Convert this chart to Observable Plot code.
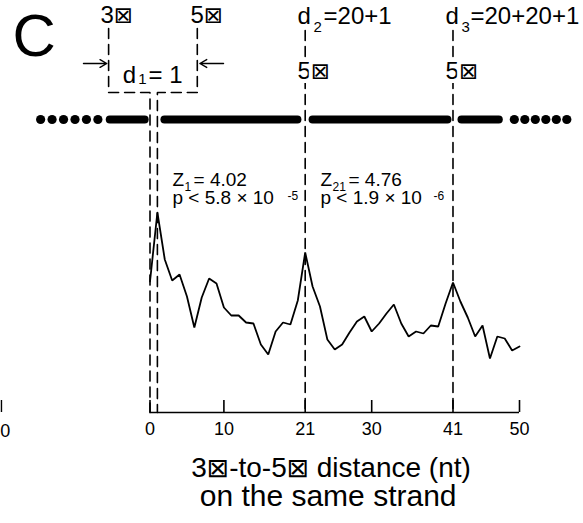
<!DOCTYPE html>
<html><head><meta charset="utf-8">
<script src="https://cdn.jsdelivr.net/npm/d3@7"></script>
<script src="https://cdn.jsdelivr.net/npm/@observablehq/plot@0.6"></script>
<style>body{margin:0;background:#fff} svg{overflow:visible}</style>
</head><body><div id="chart"></div>
<script>
// ---- data ----
const distance = [0,1,2,3,4,5,6,7,8,9,10,11,12,13,14,15,16,17,18,19,20,21,22,23,24,25,26,27,28,29,30,31,32,33,34,35,36,37,38,39,40,41,42,43,44,45,46,47,48,49,50];
const signal = [131,200,153,132,138,116,85,115,134,129,105,97,97,90,89,68,58,81,90,88,112,160,126,106,73,63,68,80,91,96,81,89,99,108,89,76,81,79,87,86,109,130,111,95,76,87,54,76,74,62,66];
const tickValues = [0,10,21,30,41,50];
const titleLines = ["3⊠-to-5⊠ distance (nt)", "on the same strand"];

// strand cartoon (in nt units)
const strandY = 293;
const strandSegments = [{start:-5.45,end:-0.72},{start:1.95,end:19.95},{start:22.0,end:40.25},{start:42.15,end:47.2}];
const strandDots = [-14.8,-13.25,-11.7,-10.15,-8.6,-7.05,49.3,50.72,52.14,53.56,54.98,56.4];

// dashed guides
const guidePaths = [
  {id:"a",x:-5.6,y:384},{id:"a",x:-5.6,y:320},{id:"a",x:0,y:320},{id:"a",x:0,y:0},
  {id:"b",x:6.4,y:384},{id:"b",x:6.4,y:320},{id:"b",x:1,y:320},{id:"b",x:1,y:0},
  {id:"c",x:21,y:382},{id:"c",x:21,y:0},
  {id:"d",x:41,y:382},{id:"d",x:41,y:0}
];
const arrows = [{x1:-9.0,x2:-5.85,y:349},{x1:9.95,x2:6.75,y:349}];

// texts
const bigLabel = [{x:-18.6,y:357,text:"C"}];
const labels24 = [
  {x:-6.7,y:390,text:"3⊠"},{x:5.48,y:390,text:"5⊠"},
  {x:19.96,y:389,text:"d"},{x:23.48,y:389,text:"=20+1"},
  {x:39.99,y:389,text:"d"},{x:43.37,y:389,text:"=20+20+1"},
  {x:-3.7,y:330,text:"d"},{x:-0.2,y:330,text:"= 1"}
];
const haloLabels = [{x:19.96,y:334,text:"5⊠"},{x:39.99,y:334,text:"5⊠"}];
const subs15 = [{x:22.13,y:380.5,text:"2"},{x:42.15,y:380.5,text:"3"},{x:-1.6,y:329,text:"1"}];
const labels19 = [
  {x:3.04,y:227,text:"Z"},{x:5.89,y:227,text:"= 4.02"},{x:3.04,y:209,text:"p < 5.8 × 10"},
  {x:23.07,y:227,text:"Z"},{x:26.86,y:227,text:"= 4.76"},{x:23.07,y:209,text:"p < 1.9 × 10"}
];
const small12 = [{x:4.67,y:222,text:"1"},{x:24.7,y:222,text:"21"},{x:18.6,y:213,text:"-5"},{x:38.36,y:213,text:"-6"}];
const fragment = [{x:-19.6,y:-24,text:"0"}];
const fragmentTick = [-20.1];

const table = distance.map((d,i)=>({distance:d, value:signal[i]}));
const txt = (data, size, extra={}) => Plot.text(data, {x:"x", y:"y", text:"text", fontSize:size, textAnchor:"start", lineAnchor:"bottom", ...extra});

const chart = Plot.plot({
  width: 583, height: 523,
  marginLeft: 149.5, marginRight: 64, marginTop: 212, marginBottom: 111,
  style: {fontFamily: "'Liberation Sans', Arial, sans-serif", background: "white", overflow: "visible", color: "black"},
  x: {domain: [0, 50]},
  y: {domain: [0, 200], axis: null},
  marks: [
    Plot.link(strandSegments, {x1:"start", x2:"end", y1:strandY, y2:strandY, stroke:"black", strokeWidth:8, strokeLinecap:"round"}),
    Plot.dot(strandDots, {x:d=>d, y:strandY, r:4.6, fill:"black"}),
    Plot.line(guidePaths, {x:"x", y:"y", z:"id", stroke:"black", strokeWidth:1.6, strokeDasharray:"10,6", strokeLinejoin:"miter"}),
    Plot.arrow(arrows, {x1:"x1", y1:"y", x2:"x2", y2:"y", stroke:"black", strokeWidth:1.4, headLength:9, headAngle:60}),
    Plot.line(table, {x:"distance", y:"value", stroke:"black", strokeWidth:1.8, strokeLinejoin:"miter"}),
    Plot.ruleY([0], {x1:0, x2:50, stroke:"black", strokeWidth:1.6}),
    Plot.ruleX(tickValues, {y1:0, y2:12, stroke:"black", strokeWidth:1.6}),
    Plot.axisX({ticks: tickValues, tickSize: 0, tickPadding: 10, fontSize: 18, label: null}),
    Plot.ruleX(fragmentTick, {y1:0, y2:12, stroke:"black", strokeWidth:1.4}),
    Plot.text(fragment, {x:"x", y:"y", text:"text", fontSize:18, lineAnchor:"bottom"}),
    txt(bigLabel, 60),
    txt(labels24, 24),
    txt(haloLabels, 24, {stroke:"white", strokeWidth:8, fill:"black"}),
    txt(subs15, 15),
    txt(labels19, 19),
    txt(small12, 12),
    Plot.text(titleLines.slice(0,1), {x:24.5, y:-64, text:d=>d, fontSize:28, textAnchor:"middle", lineAnchor:"bottom"}),
    Plot.text(titleLines.slice(1), {x:24.1, y:-93, text:d=>d, fontSize:30, textAnchor:"middle", lineAnchor:"bottom"})
  ]
});

// render the unavailable-glyph marks at a compact size
d3.select(chart).selectAll("text").each(function(){
  if (this.childElementCount === 0 && this.textContent.includes("⊠")) {
    const parts = this.textContent.split("⊠");
    this.textContent = "";
    const sel = d3.select(this);
    parts.forEach((p,i)=>{
      if (i>0) sel.append("tspan").attr("font-family","DejaVu Sans").attr("font-size","0.95em").text("⊠");
      if (p) sel.append("tspan").text(p);
    });
  }
});
document.getElementById("chart").append(chart);
</script>
</body></html>
